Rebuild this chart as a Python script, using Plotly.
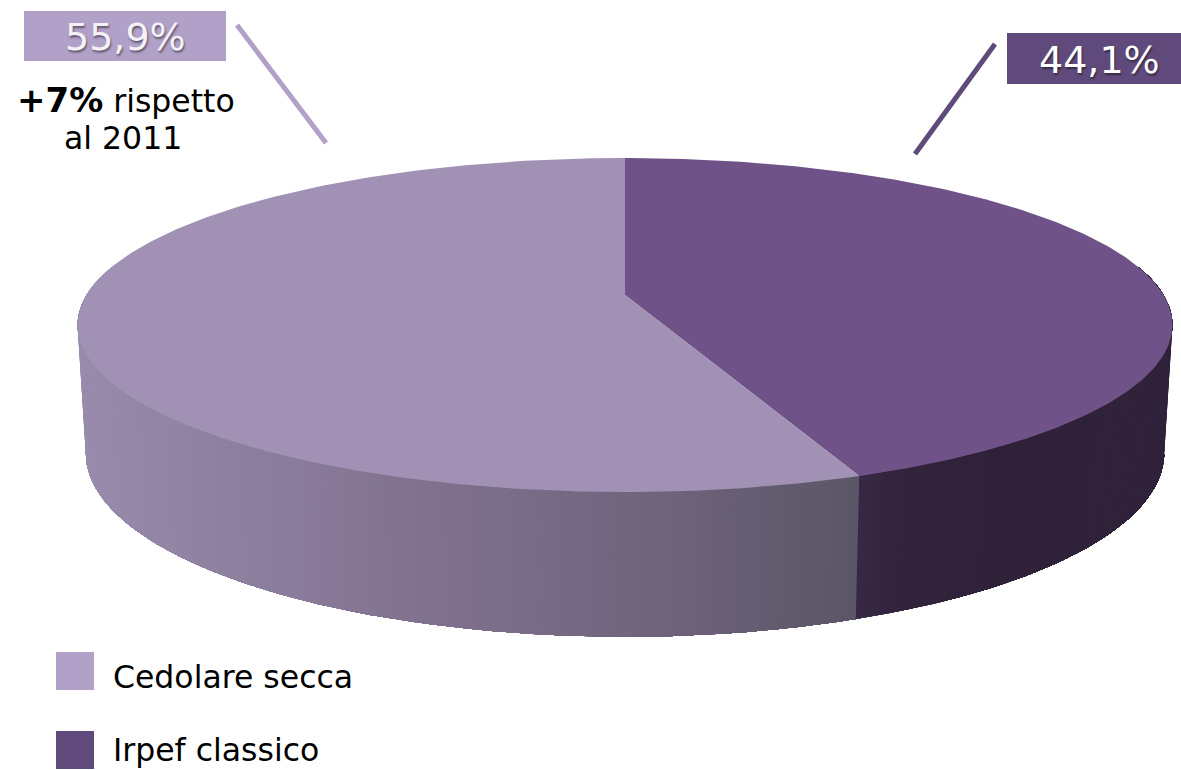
import numpy as np
import plotly.graph_objects as go

# Shares of the two tax regimes, in per cent
categories = ["Irpef classico", "Cedolare secca"]
shares = [44.1, 55.9]
share_labels = ["44,1%", "55,9%"]
top_colors = ["#6E5288", "#A091B5"]
key_colors = ["#604A7B", "#B1A0C7"]

W, H = 1181, 770

# Perspective disc: unit circle seen from the front, apex of the slices at (CX, CY)
CX, CY, A, B, K = 625.0, 295.0, 538.5, 161.6, 0.1796
BASE_Y, BASE_SX, BASE_SY = 420.0, 0.985, 1.10


def rim_top(theta):
    u, v = np.sin(theta), -np.cos(theta)
    d = 1 - K * v
    return CX + A * u / d, CY + B * v / d


def rim_base(theta):
    x, y = rim_top(theta)
    return CX + (x - CX) * BASE_SX, BASE_Y + (y - CY) * BASE_SY


# Side-wall shading, darker toward the right
wall_x = [80, 250, 450, 650, 858]
wall_r = [152, 140, 126, 110, 90]
wall_g = [139, 126, 112, 100, 85]
wall_b = [172, 157, 140, 124, 102]
dark_x = [858, 900, 1000, 1170]
dark_rgb = [(54, 40, 66), (49, 35, 58), (47, 33, 56), (48, 34, 58)]


def wall_color(x):
    if x >= 858:
        r, g, b = [np.interp(x, dark_x, [c[i] for c in dark_rgb]) for i in range(3)]
    else:
        r, g, b = (np.interp(x, wall_x, c) for c in (wall_r, wall_g, wall_b))
    return f"rgb({r:.0f},{g:.0f},{b:.0f})"


fig = go.Figure()


def add_poly(xs, ys, color):
    fig.add_trace(go.Scatter(
        x=xs, y=ys, mode="lines", fill="toself", fillcolor=color,
        line=dict(color=color, width=0), hoverinfo="skip", showlegend=False,
    ))


# Slice boundaries follow the shares, clockwise from twelve o'clock
edges = 2 * np.pi * np.cumsum([0] + shares) / sum(shares)
split = edges[1]

# The disc's outline turns where cos(theta) equals K, so the wall spans just those angles
tangent = np.arccos(K)

# Wall sweep from left to right: each band runs to the far end and the next one
# paints over it, so neighbouring bands leave no seams
grid = np.r_[np.linspace(2 * np.pi - tangent, split, 130, endpoint=False),
             np.linspace(split, tangent, 70)]
gx_top, gy_top = rim_top(grid)
gx_base, gy_base = rim_base(grid)
for i in range(len(grid) - 1):
    xm = (gx_top[i] + gx_base[i]) / 2
    add_poly(
        np.r_[gx_top[i:], gx_base[i:][::-1]],
        np.r_[gy_top[i:], gy_base[i:][::-1]],
        wall_color(xm if grid[i] > split + 1e-9 else max(xm, 858)),
    )

# Top faces of the two slices
for j, color in enumerate(top_colors):
    ts = np.linspace(edges[j], edges[j + 1], 240)
    x, y = rim_top(ts)
    add_poly(np.r_[CX, x, CX], np.r_[CY, y, CY], color)

shapes = [
    dict(type="rect", x0=24, y0=11, x1=226, y1=61, fillcolor=key_colors[1], line_width=0, layer="above"),
    dict(type="rect", x0=1007, y0=33, x1=1182, y1=84, fillcolor=key_colors[0], line_width=0, layer="above"),
    dict(type="line", x0=237, y0=25, x1=326, y1=143, line=dict(color=key_colors[1], width=5)),
    dict(type="line", x0=995, y0=44, x1=915, y1=154, line=dict(color=key_colors[0], width=5)),
    dict(type="rect", x0=56, y0=652, x1=94, y1=690, fillcolor=key_colors[1], line_width=0),
    dict(type="rect", x0=56, y0=731, x1=94, y1=769, fillcolor=key_colors[0], line_width=0),
]

FONT = "DejaVu Sans"
SHADOW = "1px 2px 2px rgba(0,0,0,0.45)"


def label(x, y, text, size, color="#000000", anchor="center", shadow=None):
    font = dict(family=FONT, size=size, color=color)
    if shadow:
        font["shadow"] = shadow
    return dict(x=x, y=y, text=text, showarrow=False, xanchor=anchor, yanchor="middle",
                align="center", font=font)


annotations = [
    label(125, 37, share_labels[1], 38, "#F4F2F7", shadow=SHADOW),
    label(1099, 60, share_labels[0], 38, "#FFFFFF", shadow=SHADOW),
    label(125.5, 100, '<span style="font-size:34px"><b>+7%</b></span> rispetto', 31.5),
    label(123, 138, "al 2011", 31.5),
    label(111, 677, categories[1], 31.5, anchor="left"),
    label(111, 750, categories[0], 31.5, anchor="left"),
]

fig.update_layout(
    width=W, height=H, margin=dict(l=0, r=0, t=0, b=0),
    paper_bgcolor="white", plot_bgcolor="white", showlegend=False,
    xaxis=dict(range=[0, W], visible=False, fixedrange=True),
    yaxis=dict(range=[H, 0], visible=False, fixedrange=True),
    shapes=shapes, annotations=annotations,
)
fig.write_html("out.html", config={"displayModeBar": False})
